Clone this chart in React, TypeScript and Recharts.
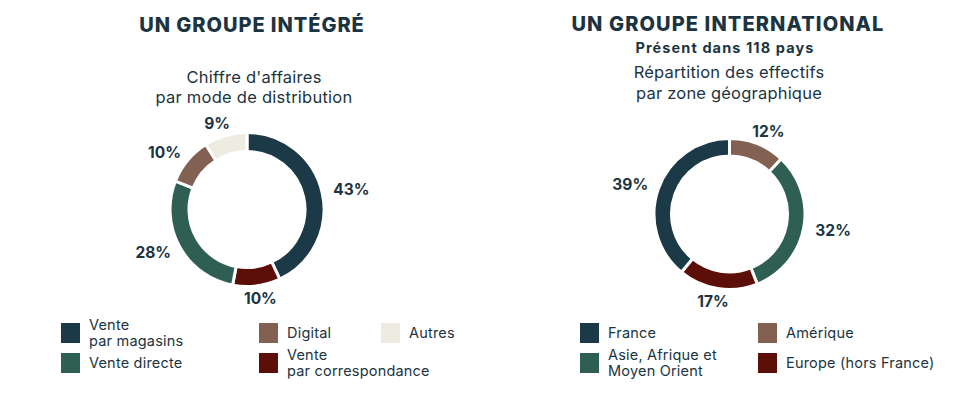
import React from 'react'
import { Cell, Pie, PieChart } from 'recharts'

// chiffre d'affaires par mode de distribution (%)
const distributionNames = ['Vente par magasins', 'Vente par correspondance', 'Vente directe', 'Digital', 'Autres']
const distributionValues = [43, 10, 28, 10, 9]

// effectifs par zone géographique (%)
const zoneNames = ['Amérique', 'Asie, Afrique et Moyen Orient', 'Europe (hors France)', 'France']
const zoneValues = [12, 32, 17, 39]

const NAVY = '#1b3946'
const GREEN = '#2f5f53'
const RED = '#5c0f09'
const BROWN = '#836152'
const CREAM = '#eeebe1'
const TEXT = '#1c3441'

const distributionColors = [NAVY, RED, GREEN, BROWN, CREAM]
const zoneColors = [BROWN, GREEN, RED, NAVY]

const FONT = 'Inter, "Open Sans", sans-serif'
const RADIAN = Math.PI / 180

const distributionData = distributionNames.map((name, i) => ({ name, value: distributionValues[i] }))
const zoneData = zoneNames.map((name, i) => ({ name, value: zoneValues[i] }))

// labels sit on an ellipse a bit wider than tall, like in the original layout
function PercentLabel(props: any) {
  const { cx, cy, midAngle, outerRadius, value } = props
  const x = cx + (outerRadius + 30) * Math.cos(-midAngle * RADIAN)
  const y = cy + (outerRadius + 13) * Math.sin(-midAngle * RADIAN)
  return (
    <text x={x} y={y} fill={TEXT} textAnchor="middle" dominantBaseline="central" fontFamily={FONT} fontSize={15.5} fontWeight={700}>
      {value}%
    </text>
  )
}

function LegendItem({ color, label }: { color: string; label: string }) {
  return (
    <div style={{ display: 'flex', alignItems: 'center', height: 20, gap: 9 }}>
      <span style={{ width: 19, height: 20, background: color, flexShrink: 0 }} />
      <span style={{ whiteSpace: 'pre', lineHeight: '16px', fontSize: 14.5, letterSpacing: 0.2, color: TEXT }}>{label}</span>
    </div>
  )
}

export default function App() {
  return (
    <div style={{ position: 'absolute', left: 0, top: 0, width: 964, height: 393, background: '#fff', fontFamily: FONT, color: TEXT }}>
      {/* left block */}
      <div style={{ position: 'absolute', left: 102, width: 300, top: 13, textAlign: 'center', fontSize: 20, fontWeight: 800, letterSpacing: 0.95 }}>
        UN GROUPE INTÉGRÉ
      </div>
      <div style={{ position: 'absolute', left: 104, width: 300, top: 67, textAlign: 'center', fontSize: 16.5, letterSpacing: 0.25, lineHeight: '20px' }}>
        Chiffre d'affaires
        <br />
        par mode de distribution
      </div>

      {/* right block */}
      <div style={{ position: 'absolute', left: 528, width: 400, top: 12, textAlign: 'center', fontSize: 20, fontWeight: 800, letterSpacing: 1.1 }}>
        UN GROUPE INTERNATIONAL
      </div>
      <div style={{ position: 'absolute', left: 525, width: 400, top: 39, textAlign: 'center', fontSize: 14.5, fontWeight: 700, letterSpacing: 1.1 }}>
        Présent dans 118 pays
      </div>
      <div style={{ position: 'absolute', left: 529, width: 400, top: 62, textAlign: 'center', fontSize: 16.5, letterSpacing: 0.2, lineHeight: '21px' }}>
        Répartition des effectifs
        <br />
        par zone géographique
      </div>

      <div style={{ position: 'absolute', left: 0, top: 0 }}>
        <PieChart width={964} height={393} margin={{ top: 0, right: 0, bottom: 0, left: 0 }}>
          <Pie
            data={distributionData}
            dataKey="value"
            nameKey="name"
            cx={247}
            cy={209.5}
            innerRadius={58}
            outerRadius={77}
            startAngle={90}
            endAngle={-270}
            stroke="#fff"
            strokeWidth={3}
            label={PercentLabel}
            labelLine={false}
            isAnimationActive={false}
          >
            {distributionData.map((d, i) => (
              <Cell key={d.name} fill={distributionColors[i]} />
            ))}
          </Pie>
          <Pie
            data={zoneData}
            dataKey="value"
            nameKey="name"
            cx={729.5}
            cy={214}
            innerRadius={58}
            outerRadius={75.5}
            startAngle={90}
            endAngle={-270}
            stroke="#fff"
            strokeWidth={3}
            label={PercentLabel}
            labelLine={false}
            isAnimationActive={false}
          >
            {zoneData.map((d, i) => (
              <Cell key={d.name} fill={zoneColors[i]} />
            ))}
          </Pie>
        </PieChart>
      </div>

      {/* left legend */}
      <div style={{ position: 'absolute', left: 61, top: 323, display: 'grid', gridTemplateColumns: '198px 122px 100px', gridTemplateRows: '20px 20px', rowGap: 10, gridAutoFlow: 'column' }}>
        <LegendItem color={NAVY} label={'Vente\npar magasins'} />
        <LegendItem color={GREEN} label="Vente directe" />
        <LegendItem color={BROWN} label="Digital" />
        <LegendItem color={RED} label={'Vente\npar correspondance'} />
        <LegendItem color={CREAM} label="Autres" />
      </div>

      {/* right legend */}
      <div style={{ position: 'absolute', left: 580, top: 323, display: 'grid', gridTemplateColumns: '178px 180px', gridTemplateRows: '20px 20px', rowGap: 10, gridAutoFlow: 'column' }}>
        <LegendItem color={NAVY} label="France" />
        <LegendItem color={GREEN} label={'Asie, Afrique et\nMoyen Orient'} />
        <LegendItem color={BROWN} label="Amérique" />
        <LegendItem color={RED} label="Europe (hors France)" />
      </div>
    </div>
  )
}
